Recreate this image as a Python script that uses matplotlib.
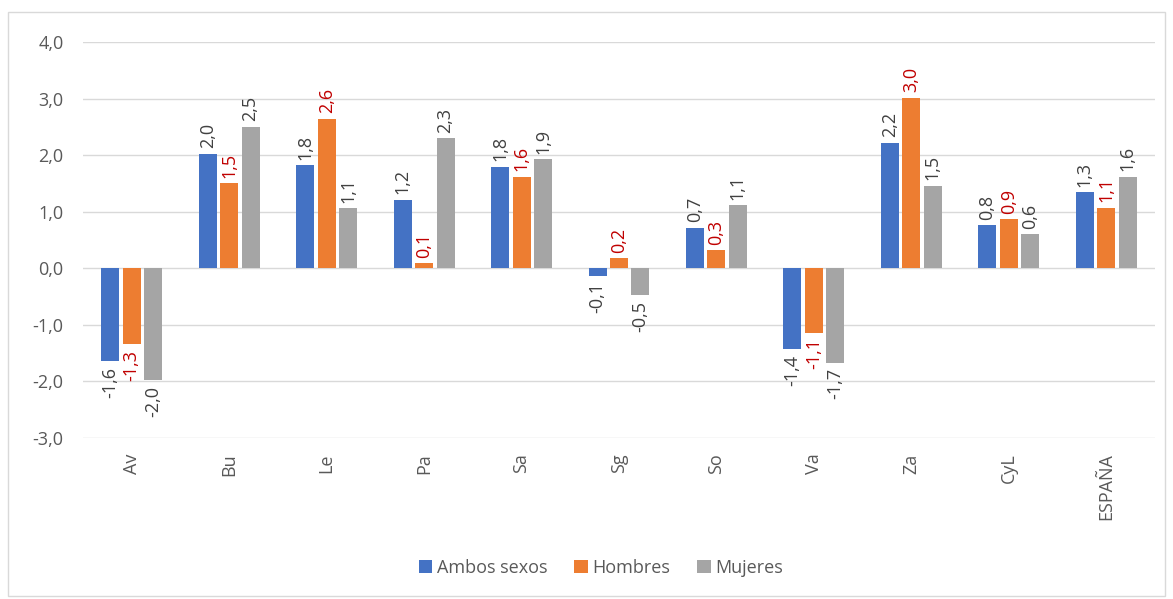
import matplotlib
matplotlib.use("Agg")
import matplotlib.pyplot as plt
from matplotlib.patches import Rectangle
import numpy as np

categories = ["Av", "Bu", "Le", "Pa", "Sa", "Sg", "So", "Va", "Za", "CyL", "ESPAÑA"]
ambos = [-1.64, 2.02, 1.82, 1.21, 1.79, -0.14, 0.72, -1.43, 2.22, 0.76, 1.34]
hombres = [-1.34, 1.50, 2.64, 0.09, 1.62, 0.18, 0.32, -1.14, 3.01, 0.87, 1.07]
mujeres = [-1.98, 2.50, 1.06, 2.30, 1.93, -0.48, 1.11, -1.67, 1.46, 0.60, 1.62]
series_names = ["Ambos sexos", "Hombres", "Mujeres"]
colors = ["#4472C4", "#ED7D31", "#A5A5A5"]
label_colors = ["#404040", "#C00000", "#404040"]
yticks = [-3.0, -2.0, -1.0, 0.0, 1.0, 2.0, 3.0, 4.0]

plt.rcParams['font.family'] = ['Open Sans', 'DejaVu Sans']
FS = 13

fig = plt.figure(figsize=(11.73, 5.99), dpi=100)
fig.patches.append(Rectangle((8/1173, 3/599), 1157/1173, 584/599, transform=fig.transFigure,
                             fill=False, edgecolor="#D9D9D9", linewidth=1))
ax = fig.add_axes([83/1173, 1 - 438/599, (1155 - 83)/1173, (438 - 42)/599])

x = np.arange(len(categories))
bw = 0.185
step = 0.22
all_series = [ambos, hombres, mujeres]
for i, (vals, name, c, lc) in enumerate(zip(all_series, series_names, colors, label_colors)):
    pos = x + (i - 1) * step
    ax.bar(pos, vals, width=bw, color=c, label=name, zorder=3)
    for p, v in zip(pos, vals):
        txt = f"{v:.1f}".replace(".", ",")
        if v >= 0:
            ax.annotate(txt, (p, v), xytext=(0, 4), textcoords="offset points",
                        rotation=90, ha="center", va="bottom", color=lc, fontsize=FS)
        else:
            ax.annotate(txt, (p, v), xytext=(0, -4), textcoords="offset points",
                        rotation=90, ha="center", va="top", color=lc, fontsize=FS)

ax.set_xlim(-0.5, len(categories) - 0.5)
ax.set_ylim(-3.0, 4.0)
ax.set_yticks(yticks)
ax.set_yticklabels([f"{t:.1f}".replace(".", ",") for t in yticks], color="#595959", fontsize=FS)
ax.set_xticks(x)
ax.set_xticklabels(categories, rotation=90, color="#595959", fontsize=FS)
ax.tick_params(axis="both", length=0)
ax.tick_params(axis="y", pad=14)
ax.tick_params(axis="x", pad=11)
for s in ax.spines.values():
    s.set_visible(False)
ax.yaxis.grid(True, color="#D9D9D9", linewidth=1, zorder=0)
ax.set_axisbelow(True)

leg = fig.legend(loc="center", bbox_to_anchor=(601/1173, 1 - 568/599), ncol=3, frameon=False,
                 fontsize=FS, handlelength=0.75, handleheight=0.75, handletextpad=0.25,
                 columnspacing=1.5)
for t in leg.get_texts():
    t.set_color("#595959")

fig.savefig("out.png", dpi=100)
